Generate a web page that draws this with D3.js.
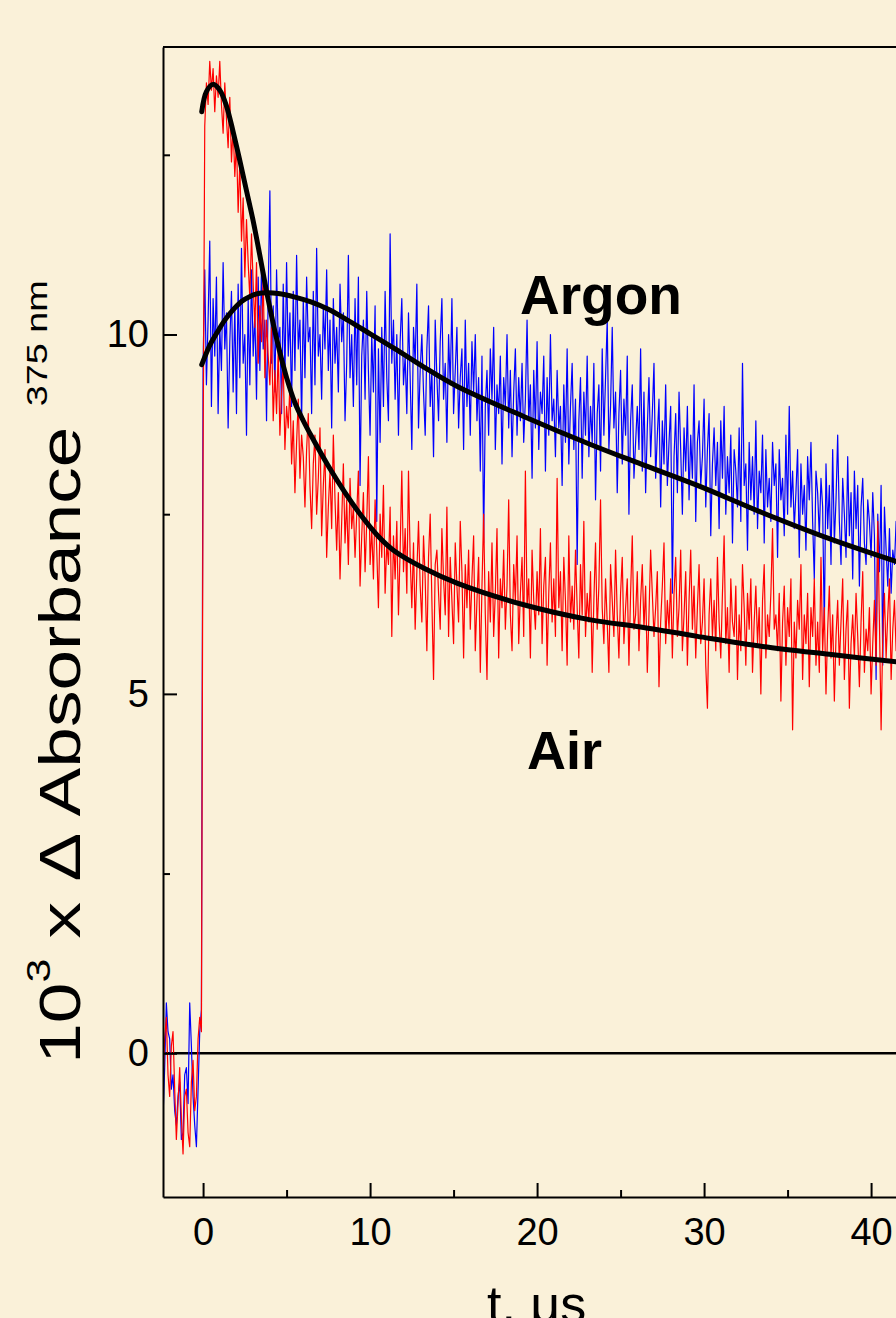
<meta charset="utf-8">
<script src="https://d3js.org/d3.v7.min.js"></script>

<style>
    body { margin: 0; background: #faf1d9; }
    svg { display: block; font-family: Arial, "Liberation Sans", sans-serif; }
    .axis path, .axis line { stroke: #000; stroke-width: 2; }
    .axis text { font-size: 38px; fill: #000; font-family: Arial, "Liberation Sans", sans-serif; }
</style>

<svg width="896" height="1318"></svg>

<script>
    // sampling of the transient recorder: first point and step, microseconds
    var tStart = -2.4, tStep = 0.1;

    // Air (red trace), 10^3 x dA at 375 nm
    var airSignal = [
        -0.4, 0.2, 0.5, -0.3, -0.6, 0.1, 0.3, -0.5, -1.2, -0.7, -0.2, -0.9,
        -1.4, -0.6, -0.5, -1.1, -1.3, -0.4, -0.1, -0.8, -0.6, 0.2, 0.5, 0.3,
        8.3,
        12.9, 13.5, 13.2, 13.8, 13.4, 13.7, 13.1, 13.6, 13.3, 13.8,
        13.2, 12.8, 13.5, 13.0, 12.6, 13.3, 12.4, 12.9, 12.2, 12.7,
        11.7, 12.4, 11.3, 11.9, 10.8, 11.6, 11.0, 10.5, 11.4, 10.7,
        10.1, 11.0, 9.6, 10.4, 9.9, 10.8, 9.4, 10.2, 9.7, 9.3,
        10.1, 8.8, 9.5, 8.9, 9.8, 8.6, 9.2, 9.6, 8.4, 9.0,
        8.7, 9.3, 8.2, 8.8, 7.8, 8.5, 9.1, 8.0, 8.6, 8.3,
        7.6, 8.4, 8.9, 7.9, 7.3, 8.2, 8.6, 7.5, 8.0, 8.7,
        7.2, 7.9, 8.4, 6.9, 7.6, 8.1, 7.3, 8.6, 7.7, 7.0,
        7.8, 6.6, 7.4, 8.2, 7.1, 7.7, 6.8, 8.0, 7.3, 7.6,
        6.9, 7.5, 8.1, 6.5, 7.2, 7.8, 6.7, 7.4, 8.3, 6.8,
        7.3, 6.6, 7.7, 7.0, 6.2, 7.5, 6.9, 7.9, 6.4, 7.1,
        6.8, 7.6, 5.8, 7.2, 6.6, 7.4, 6.1, 7.0, 8.1, 6.7,
        7.3, 6.4, 8.1, 6.9, 6.2, 7.1, 5.9, 6.7, 7.4, 6.5,
        6.0, 7.2, 6.6, 5.6, 6.9, 7.5, 6.3, 5.2, 6.8, 7.0,
        6.4, 5.9, 7.3, 6.6, 6.1, 7.6, 5.8, 6.9, 6.3, 5.7,
        7.1, 6.5, 6.0, 7.4, 6.7, 5.5, 6.8, 6.2, 7.0, 5.9,
        6.6, 7.2, 5.6, 6.3, 6.9, 5.3, 6.5, 7.5, 6.1, 5.2,
        6.7, 6.0, 7.1, 5.8, 6.4, 7.3, 5.5, 6.6, 6.2, 7.0,
        5.9, 6.5, 7.7, 6.1, 5.6, 6.8, 6.3, 7.2, 5.7, 6.4,
        6.9, 5.8, 8.1, 6.2, 6.6, 5.5, 7.0, 6.3, 5.9, 6.7,
        6.1, 7.3, 5.7, 6.5, 6.9, 5.4, 6.4, 7.1, 6.0, 6.6,
        5.8, 8.0, 6.2, 6.7, 5.6, 6.9, 6.3, 5.4, 7.2, 6.0,
        6.5, 5.9, 7.0, 6.2, 5.5, 6.8, 6.1, 7.4, 5.8, 6.4,
        6.0, 6.7, 5.3, 6.3, 7.1, 5.9, 6.5, 7.7, 6.2, 5.7,
        6.6, 6.0, 5.3, 6.8, 6.3, 5.8, 7.0, 6.1, 5.5, 6.4,
        6.9, 5.7, 6.2, 6.6, 5.4, 6.4, 7.2, 5.9, 6.1, 6.7,
        5.6, 6.3, 6.8, 5.9, 6.5, 5.3, 6.1, 7.0, 6.4, 5.8,
        6.2, 6.7, 5.1, 6.0, 6.5, 7.1, 5.7, 6.3, 5.9, 6.6,
        5.5, 6.4, 6.9, 5.8, 6.2, 7.0, 5.6, 6.1, 6.7, 5.4,
        6.3, 7.0, 5.9, 6.5, 5.5, 6.2, 6.8, 5.7, 6.0, 6.6,
        5.4, 4.8, 6.1, 6.6, 5.8, 6.3, 5.6, 6.9, 6.0, 5.5,
        6.4, 7.2, 5.7, 6.2, 5.3, 6.6, 6.0, 5.8, 6.5, 5.2,
        6.1, 5.6, 6.8, 6.2, 5.4, 6.4, 5.9, 6.6, 5.3, 6.0,
        6.5, 5.7, 6.2, 5.0, 6.3, 6.8, 5.5, 6.1, 5.8, 6.4,
        7.3, 5.9, 6.1, 5.6, 6.4, 4.9, 6.0, 6.5, 5.4, 6.2,
        5.8, 6.6, 4.5, 6.0, 5.5, 6.3, 5.9, 6.8, 5.2, 6.1,
        5.7, 6.4, 5.1, 6.2, 5.8, 6.6, 5.4, 6.0, 5.3, 6.9,
        5.6, 6.2, 5.0, 5.9, 6.5, 5.5, 6.1, 4.9, 5.8, 6.3,
        5.4, 6.0, 6.6, 5.2, 5.9, 6.3, 4.8, 5.7, 6.1, 5.5,
        6.4, 5.8, 5.1, 6.0, 6.7, 5.3, 5.9, 5.6, 6.2, 5.0,
        5.7, 6.3, 5.4, 7.4, 6.0, 4.5, 5.8, 6.4, 5.5, 6.1,
        6.6, 5.2, 5.9, 6.3, 5.6, 6.0
    ];

    // Argon (blue trace)
    var argonSignal = [
        -0.9, -0.2, 0.7, 0.3, 0.2, -0.5, -0.3, -0.8, -1.0, -0.6, -0.4, -1.2,
        -1.1, -0.3, -0.2, -0.7, 0.7, 0.1, -0.6, -1.0, -1.3, -0.5, 0.3, 0.6,
        9.6,
        10.9, 9.3, 10.2, 11.3, 9.0, 10.5, 9.7, 10.8, 8.9, 10.1,
        9.5, 11.0, 9.8, 10.3, 8.7, 9.9, 10.6, 9.2, 10.4, 8.9,
        10.7, 9.4, 11.2, 9.6, 10.0, 8.6, 10.5, 9.3, 10.9, 9.7,
        10.3, 9.1, 10.8, 9.5, 11.0, 9.8, 10.2, 8.8, 10.6, 12.0,
        9.6, 10.4, 9.2, 10.9, 9.9, 10.1, 8.9, 10.7, 9.4, 11.0,
        9.7, 10.3, 9.0, 10.6, 9.5, 11.1, 9.8, 10.2, 8.8, 10.5,
        9.4, 10.8, 9.9, 10.1, 8.9, 10.6, 9.3, 11.2, 9.7, 10.0,
        9.1, 10.4, 9.8, 10.9, 9.5, 10.2, 8.7, 10.5, 9.6, 10.1,
        9.2, 10.7, 9.9, 10.3, 8.8, 9.6, 11.1, 9.4, 10.0, 9.0,
        10.5, 9.3, 10.8, 7.9, 9.7, 10.2, 9.1, 10.6, 9.5, 8.6,
        10.0, 9.2, 10.4, 7.4, 9.8, 8.5, 10.1, 9.0, 10.6, 9.4,
        8.8, 11.4, 9.6, 10.2, 9.1, 10.0, 8.6, 9.9, 10.5, 9.3,
        9.7, 8.9, 10.3, 9.4, 8.4, 10.1, 9.6, 10.7, 8.7, 9.5,
        10.0, 9.2, 8.6, 9.8, 10.4, 9.0, 9.5, 8.3, 10.2, 9.4,
        8.8, 9.9, 10.5, 9.1, 9.6, 8.5, 10.0, 9.3, 10.5, 8.9,
        9.5, 10.1, 8.7, 9.4, 9.8, 8.4, 10.2, 9.0, 9.6, 8.6,
        9.9, 9.2, 10.0, 8.8, 9.4, 8.1, 9.7, 7.1, 9.0, 9.5,
        8.6, 9.8, 9.1, 10.1, 8.4, 9.3, 8.9, 9.7, 8.2, 9.4,
        9.0, 10.0, 8.7, 9.5, 8.3, 9.2, 9.8, 8.6, 9.4, 8.8,
        9.6, 8.5, 9.1, 10.2, 8.8, 9.3, 8.0, 9.5, 8.7, 9.9,
        8.4, 9.2, 8.9, 9.7, 8.1, 9.4, 8.6, 10.0, 8.8, 9.1,
        8.3, 9.5, 8.7, 9.0, 7.9, 9.3, 8.5, 9.8, 8.2, 9.0,
        9.6, 8.4, 9.1, 6.8, 8.8, 9.4, 8.0, 9.2, 8.6, 9.7,
        8.3, 9.0, 8.5, 9.6, 7.7, 8.9, 9.3, 8.1, 9.8, 8.6,
        9.4, 10.2, 8.4, 9.0, 10.1, 8.7, 9.2, 7.8, 8.9, 9.5,
        8.2, 9.1, 8.6, 9.7, 7.5, 8.8, 9.3, 8.0, 8.5, 9.0,
        8.4, 9.8, 8.1, 9.2, 7.8, 8.7, 9.4, 8.3, 8.9, 9.6,
        8.0, 8.6, 9.1, 7.6, 8.8, 8.2, 9.3, 7.9, 8.5, 9.0,
        6.4, 8.3, 8.9, 7.8, 9.2, 8.4, 7.5, 8.7, 8.1, 9.0,
        7.7, 8.6, 8.0, 9.3, 7.4, 8.5, 8.8, 7.9, 8.3, 9.1,
        7.6, 8.4, 8.9, 7.2, 8.2, 8.7, 7.9, 8.5, 7.3, 8.8,
        8.0, 9.0, 7.5, 8.3, 7.8, 8.6, 7.1, 8.4, 8.1, 7.6,
        8.7, 7.4, 9.6, 7.9, 8.2, 7.0, 8.5, 7.7, 8.3, 7.5,
        8.8, 7.3, 8.1, 7.8, 8.6, 7.1, 8.4, 7.6, 8.0, 7.4,
        8.5, 7.9, 8.2, 6.9, 8.4, 7.7, 8.0, 7.2, 8.6, 7.5,
        9.0, 7.6, 8.1, 7.3, 7.8, 8.4, 6.9, 8.2, 7.5, 7.9,
        7.0, 8.3, 7.7, 8.5, 7.4, 6.6, 8.1, 7.8, 7.2, 8.0,
        7.6, 5.9, 8.2, 7.3, 7.9, 6.8, 8.4, 7.1, 7.7, 8.6,
        7.4, 6.8, 8.0, 7.5, 6.9, 8.3, 7.2, 7.8, 6.6, 8.1,
        7.3, 7.9, 6.5, 7.6, 8.0, 7.1, 6.8, 7.7, 7.4, 6.9,
        7.8, 7.2, 5.2, 7.5, 6.7, 7.9, 5.4, 7.6, 7.0, 6.5,
        7.3, 6.4, 7.0, 6.8, 7.4, 6.7
    ];

    // kinetic fits (black curves): time and value
    var airFitT = [-0.08, 0.2, 0.6, 1.0, 1.4, 1.8, 2.2, 2.6, 3.0, 3.4, 3.8, 4.2, 4.6, 5.0, 5.5, 6.0, 6.5, 7.5, 8.5, 9.5, 10.5, 11.5, 13.2, 15.2, 19.2, 23.2, 26.2, 29.6, 33.5, 37.5, 41.8];
    var airFitY = [13.1, 13.38, 13.48, 13.4, 13.18, 12.82, 12.42, 12.0, 11.58, 11.1, 10.6, 10.15, 9.75, 9.4, 9.05, 8.8, 8.58, 8.17, 7.8, 7.47, 7.19, 6.98, 6.75, 6.54, 6.24, 6.03, 5.93, 5.8, 5.66, 5.55, 5.44];
    var argonFitT = [-0.08, 0.4, 0.82, 1.3, 1.82, 2.3, 2.81, 3.3, 3.81, 4.5, 5.5, 6.5, 7.5, 8.5, 9.5, 11.5, 13.2, 15.2, 19.2, 23.2, 26.2, 29.6, 33.5, 37.5, 41.8];
    var argonFitY = [9.58, 9.85, 10.02, 10.2, 10.35, 10.46, 10.53, 10.57, 10.58, 10.57, 10.52, 10.45, 10.35, 10.22, 10.08, 9.8, 9.55, 9.28, 8.86, 8.47, 8.2, 7.9, 7.52, 7.16, 6.82];

    var xMajorTicks = [0, 10, 20, 30, 40];
    var xMinorTicks = [5, 15, 25, 35];
    var yMajorTicks = [0, 5, 10];
    var yMinorTicks = [2.5, 7.5, 12.5];

    var svg = d3.select("svg"),
        width = +svg.attr("width"),
        height = +svg.attr("height");

    svg.append("rect")
        .attr("width", width)
        .attr("height", height)
        .attr("fill", "#faf1d9");

    // plot frame: left 163, top 47, bottom 1197, right runs off the page
    var x = d3.scaleLinear()
        .domain([-2.4, 45])
        .range([163, 163 + 47.4 * 16.7]);

    var y = d3.scaleLinear()
        .domain([-2, 14])
        .range([1197, 47]);

    svg.append("clipPath")
        .attr("id", "plot-clip")
        .append("rect")
        .attr("x", x.range()[0])
        .attr("y", y.range()[1])
        .attr("width", x.range()[1] - x.range()[0])
        .attr("height", y.range()[0] - y.range()[1]);

    var plot = svg.append("g").attr("clip-path", "url(#plot-clip)");

    // zero line
    plot.append("line")
        .attr("x1", x(-2.4))
        .attr("x2", x(45))
        .attr("y1", y(0))
        .attr("y2", y(0))
        .attr("stroke", "#000")
        .attr("stroke-width", 2.5);

    var trace = d3.line()
        .x(function(d, i) { return x(tStart + i * tStep); })
        .y(function(d) { return y(d); });

    plot.append("path")
        .datum(argonSignal)
        .attr("d", trace)
        .attr("fill", "none")
        .attr("stroke", "#0000ff")
        .attr("stroke-width", 1.2)
        .attr("stroke-linejoin", "round");

    plot.append("path")
        .datum(airSignal)
        .attr("d", trace)
        .attr("fill", "none")
        .attr("stroke", "#ff0000")
        .attr("stroke-width", 1.2)
        .attr("stroke-linejoin", "round");

    var fitLine = d3.line()
        .x(function(d) { return x(d[0]); })
        .y(function(d) { return y(d[1]); })
        .curve(d3.curveCatmullRom.alpha(0.5));

    [[airFitT, airFitY], [argonFitT, argonFitY]].forEach(function(f) {
        plot.append("path")
            .datum(f[0].map(function(t, i) { return [t, f[1][i]]; }))
            .attr("d", fitLine)
            .attr("fill", "none")
            .attr("stroke", "#000")
            .attr("stroke-width", 5)
            .attr("stroke-linecap", "round");
    });

    // axes, ticks pointing into the plot
    svg.append("g")
        .attr("class", "axis")
        .attr("transform", "translate(0," + y.range()[0] + ")")
        .call(d3.axisBottom(x).tickValues(xMajorTicks).tickSize(-14).tickSizeOuter(0).tickPadding(21));

    svg.append("g")
        .attr("class", "axis")
        .attr("transform", "translate(0," + y.range()[0] + ")")
        .call(d3.axisBottom(x).tickValues(xMinorTicks).tickSize(-7).tickSizeOuter(0).tickFormat(""))
        .select(".domain").remove();

    svg.append("g")
        .attr("class", "axis")
        .attr("transform", "translate(" + x.range()[0] + ",0)")
        .call(d3.axisLeft(y).tickValues(yMajorTicks).tickSize(-14).tickSizeOuter(0).tickPadding(14));

    svg.append("g")
        .attr("class", "axis")
        .attr("transform", "translate(" + x.range()[0] + ",0)")
        .call(d3.axisLeft(y).tickValues(yMinorTicks).tickSize(-7).tickSizeOuter(0).tickFormat(""))
        .select(".domain").remove();

    // top frame line
    svg.append("line")
        .attr("x1", x.range()[0])
        .attr("x2", width)
        .attr("y1", y.range()[1])
        .attr("y2", y.range()[1])
        .attr("stroke", "#000")
        .attr("stroke-width", 2);

    // axis titles
    svg.append("text")
        .attr("x", 487)
        .attr("y", 1322)
        .attr("font-size", "52px")
        .attr("fill", "#000")
        .text("t, \u03bcs");

    // the slide stretched this title along its length
    var ylab = svg.append("text")
        .attr("transform", "translate(80,672) rotate(-90) scale(1.26,1)")
        .attr("text-anchor", "middle")
        .attr("font-size", "58px")
        .attr("fill", "#000");
    ylab.append("tspan").text("10");
    ylab.append("tspan").attr("font-size", "34px").attr("dy", -30).text("3");
    ylab.append("tspan").attr("dy", 30).text(" x \u0394 Absorbance ");
    ylab.append("tspan").attr("font-size", "30px").attr("dy", -33).text("375 nm");

    // series labels
    svg.append("text")
        .attr("x", 520)
        .attr("y", 314)
        .attr("font-size", "55px")
        .attr("font-weight", "bold")
        .attr("fill", "#000")
        .text("Argon");

    svg.append("text")
        .attr("x", 527)
        .attr("y", 769)
        .attr("font-size", "54px")
        .attr("font-weight", "bold")
        .attr("fill", "#000")
        .text("Air");
</script>
